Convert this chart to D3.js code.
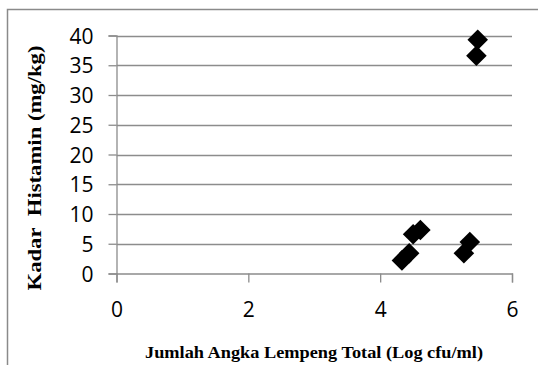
<!DOCTYPE html>
<html><head><meta charset="utf-8">
<script src="https://cdn.jsdelivr.net/npm/d3@7"></script>
<style>body{margin:0;background:#fff}svg{display:block}</style>
</head><body>
<script>
const xValues = [5.48, 5.46, 4.50, 4.61, 4.33, 4.44, 5.27, 5.36];
const yValues = [39.3, 36.6, 6.6, 7.3, 2.2, 3.4, 3.4, 5.3];
const xTicks = [0, 2, 4, 6];
const yTicks = [0, 5, 10, 15, 20, 25, 30, 35, 40];
const xTitle = "Jumlah Angka Lempeng Total (Log cfu/ml)";
const yTitle = "Kadar\u00A0 Histamin (mg/kg)";

const W = 538, H = 365;
const svg = d3.select("body").append("svg").attr("width", W).attr("height", H);
const x = d3.scaleLinear().domain([0, 6]).range([116.5, 512]);
const y = d3.scaleLinear().domain([0, 40]).range([273.5, 35.5]);

// frame
svg.append("path").attr("d", `M7.5,${H} V9.5 H${W}`).attr("fill", "none").attr("stroke", "#8a8a8a").attr("stroke-width", 1.5);

// gridlines
svg.append("g").selectAll("line").data(yTicks.filter(d => d > 0)).join("line")
  .attr("x1", x(0)).attr("x2", x(6)).attr("y1", d => Math.round(y(d)) + 0.5).attr("y2", d => Math.round(y(d)) + 0.5)
  .attr("stroke", "#8c8c8c").attr("stroke-width", 1.3);

// y axis
const yAxis = svg.append("g").attr("transform", `translate(${x(0)},0)`)
  .call(d3.axisLeft(y).tickValues(yTicks).tickSize(8).tickPadding(15));
yAxis.select(".domain").attr("stroke", "#8c8c8c").attr("stroke-width", 1.3);
yAxis.selectAll(".tick line").attr("stroke", "#8c8c8c").attr("stroke-width", 1.3);
yAxis.selectAll("text").attr("font-family", "'Open Sans', sans-serif").attr("font-size", 21).attr("fill", "#000").attr("dy", "0.36em");

// x axis
const xAxis = svg.append("g").attr("transform", `translate(0,${y(0)})`)
  .call(d3.axisBottom(x).tickValues(xTicks).tickSize(9).tickPadding(20).tickFormat(d3.format("d")));
xAxis.select(".domain").attr("stroke", "#8c8c8c").attr("stroke-width", 1.3);
xAxis.selectAll(".tick line").attr("stroke", "#8c8c8c").attr("stroke-width", 1.3);
xAxis.selectAll("text").attr("font-family", "'Open Sans', sans-serif").attr("font-size", 21).attr("fill", "#000");

// points
const sym = d3.symbol().type(d3.symbolDiamond2).size(270);
svg.append("g").selectAll("path").data(xValues.map((v, i) => [v, yValues[i]])).join("path")
  .attr("transform", d => `translate(${x(d[0])},${y(d[1])})`)
  .attr("d", sym).attr("fill", "#000");

// titles
svg.append("text").attr("x", 314).attr("y", 358).attr("text-anchor", "middle")
  .attr("font-family", "'Liberation Serif', 'Times New Roman', serif").attr("font-weight", "bold").attr("font-size", 17)
  .attr("fill", "#000").attr("textLength", 338).attr("lengthAdjust", "spacingAndGlyphs").text(xTitle);
svg.append("text").attr("transform", "translate(41,168) rotate(-90)").attr("text-anchor", "middle")
  .attr("font-family", "'Liberation Serif', 'Times New Roman', serif").attr("font-weight", "bold").attr("font-size", 18)
  .attr("fill", "#000").attr("textLength", 245).attr("lengthAdjust", "spacingAndGlyphs").text(yTitle);
</script>
</body></html>
